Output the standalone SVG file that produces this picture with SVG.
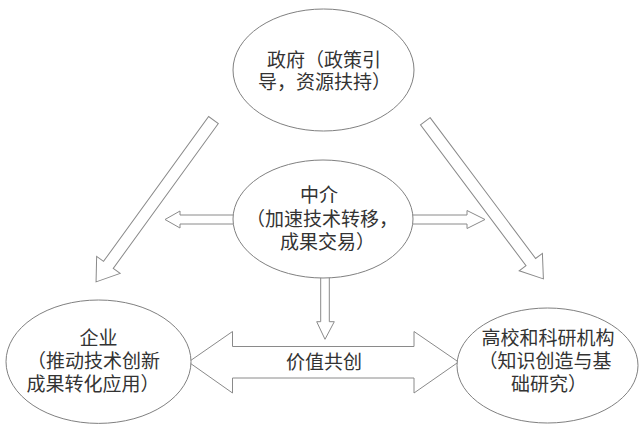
<svg xmlns="http://www.w3.org/2000/svg" width="639" height="426" viewBox="0 0 639 426">
<style>
.node ellipse{fill:#fff;stroke:#808080;stroke-width:1}
.arr{fill:#fff;stroke:#8a8a8a;stroke-width:1;stroke-linejoin:miter}
text{font-family:"Liberation Sans","Noto Sans CJK SC",sans-serif;font-size:19px;fill:#333;text-anchor:middle}
</style>
<rect width="639" height="426" fill="#fff"/>
<g id="connectors">
<path class="arr" transform="translate(213.5,120) rotate(125.96)" d="M0,-6 L179,-6 L179,-14.5 L200,0 L179,14.5 L179,6 L0,6 Z"/>
<path class="arr" transform="translate(425.3,121.2) rotate(53.17)" d="M0,-6 L176,-6 L176,-14.5 L197,0 L176,14.5 L176,6 L0,6 Z"/>
<path class="arr" d="M233.5,215 L180,215 L180,211 L165,219.5 L180,228 L180,224 L233.5,224"/>
<path class="arr" d="M412.5,215 L467,215 L467,210.5 L485,219.5 L467,228.5 L467,224 L412.5,224"/>
<path class="arr" d="M320.7,277.5 L320.7,321.7 L316.7,321.7 L325,339.3 L334.3,321.7 L329.3,321.7 L329.3,277.5"/>
<path class="arr" d="M188.5,362 L232.5,331.5 L232.5,346.5 L414,346.5 L414,331.5 L458.5,362 L414,393 L414,378 L232.5,378 L232.5,393 Z"/>
<text x="324" y="368.7">价值共创</text>
</g>
<g id="government" class="node">
<ellipse cx="323.5" cy="70" rx="90.5" ry="61"/>
<text><tspan x="324" y="66.5">政府（政策引</tspan><tspan x="324.5" y="89">导，资源扶持）</tspan></text>
</g>
<g id="intermediary" class="node">
<ellipse cx="323" cy="219" rx="90" ry="59"/>
<text><tspan x="319" y="202">中介</tspan><tspan x="322" y="225.5">（加速技术转移，</tspan><tspan x="327.5" y="249">成果交易）</tspan></text>
</g>
<g id="enterprise" class="node">
<ellipse cx="98.5" cy="361.7" rx="92.5" ry="61.7"/>
<text><tspan x="98.5" y="344.5">企业</tspan><tspan x="93.5" y="367.5">（推动技术创新</tspan><tspan x="93" y="390.5">成果转化应用）</tspan></text>
</g>
<g id="university" class="node">
<ellipse cx="547.5" cy="365.5" rx="90.5" ry="57.5"/>
<text><tspan x="548" y="344.5">高校和科研机构</tspan><tspan x="545" y="367.5">（知识创造与基</tspan><tspan x="549" y="390.5">础研究）</tspan></text>
</g>
</svg>
